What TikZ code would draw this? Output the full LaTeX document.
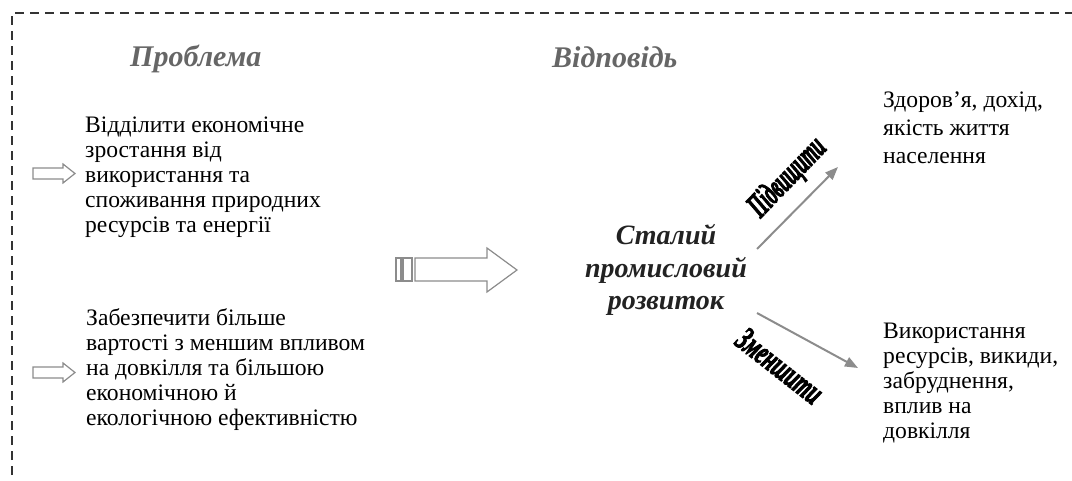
\documentclass[tikz,border=0pt]{standalone}
\usepackage{fontspec}
\setmainfont{Liberation Serif}
\newfontfamily\heavyfont{Liberation Serif}[BoldItalicFeatures={FakeBold=3.5}]
\usetikzlibrary{arrows.meta}
\definecolor{hdrgray}{HTML}{666666}
\definecolor{arrgray}{HTML}{8C8C8C}
\definecolor{framegray}{HTML}{333333}
\definecolor{ctrtext}{HTML}{222222}
\begin{document}
\begin{tikzpicture}[x=1bp,y=-1bp,
  bodytext/.style={font=\fontsize{23.6bp}{25bp}\selectfont, align=left, anchor=base west, inner sep=0pt},
  hdrtext/.style={font=\fontsize{30bp}{34bp}\selectfont\bfseries\itshape, text=hdrgray, anchor=base west, inner sep=0pt},
  ctrnode/.style={font=\fontsize{28bp}{32.5bp}\selectfont\bfseries\itshape, text=ctrtext, align=center, anchor=base, inner sep=0pt},
  wordart/.style={font=\fontsize{34bp}{38bp}\heavyfont\bfseries\itshape, inner sep=0pt},
  hollow/.style={draw=arrgray, line width=1.2bp, fill=white, line join=miter},
  diag/.style={draw=arrgray, line width=2bp, -{Triangle[length=13bp,width=10bp]}}
]
\useasboundingbox (0,0) rectangle (1072,481);
% frame
\draw[framegray, line width=2bp, dash pattern=on 9bp off 6bp] (12,490) -- (12,13) -- (1080,13);
% headers
\node[hdrtext] (prob) at (130,67) {Проблема};
\node[hdrtext] (vidp) at (552,68) {Відповідь};
% left texts (anchored at the baseline of the last line)
\node[bodytext] (t1) at (85,232.5) {Відділити економічне\\зростання від\\використання та\\споживання природних\\ресурсів та енергії};
\node[bodytext] (t2) at (86,425) {Забезпечити більше\\вартості з меншим впливом\\на довкілля та більшою\\економічною й\\екологічною ефективністю};
% small hollow arrows
\draw[hollow] (33,168) -- (63,168) -- (63,164) -- (75,173.5) -- (63,183) -- (63,179) -- (33,179) -- cycle;
\draw[hollow] (33,367) -- (63,367) -- (63,363) -- (75,372.5) -- (63,382) -- (63,378) -- (33,378) -- cycle;
% big hollow arrow
\draw[hollow] (396,258) rectangle (401,281);
\draw[hollow] (403,258) rectangle (412,281);
\draw[hollow] (415,258) -- (487,258) -- (487,248) -- (517,270) -- (487,292) -- (487,281) -- (415,281) -- cycle;
% centre
\node[ctrnode] (ctr) at (666,310) {Сталий\\промисловий\\розвиток};
% right texts
\node[bodytext, font=\fontsize{23.6bp}{28bp}\selectfont] (r1) at (883,164) {Здоров’я, дохід,\\якість життя\\населення};
\node[bodytext] (r2) at (883,438) {Використання\\ресурсів, викиди,\\забруднення,\\вплив на\\довкілля};
% diagonal arrows
\coordinate (upS) at (757,249);
\coordinate (upE) at (838,167);
\coordinate (dnS) at (757,313);
\coordinate (dnE) at (858,368);
\draw[diag] (upS) -- (upE);
\draw[diag] (dnS) -- (dnE);
% word art labels
\node[wordart, rotate=46] (inc) at (788,178) {\scalebox{0.54}[1]{Підвищити}};
\node[wordart, rotate=-38] (dec) at (780,366) {\scalebox{0.6}[1]{Зменшити}};
\end{tikzpicture}
\end{document}
